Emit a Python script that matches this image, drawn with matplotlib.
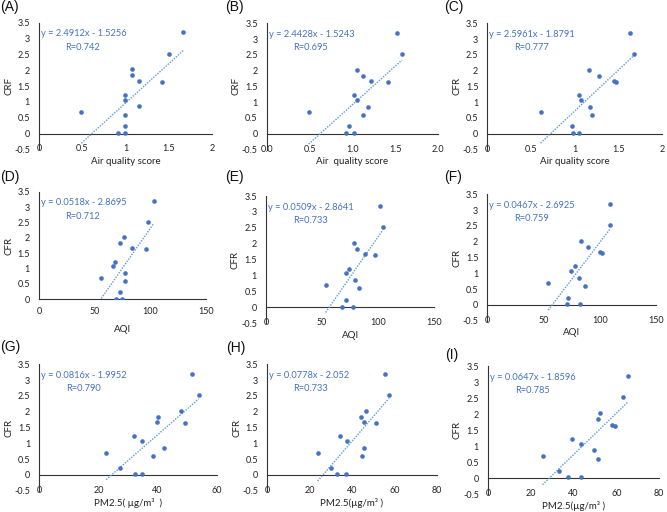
import matplotlib
matplotlib.use('Agg')
import matplotlib.pyplot as plt
import numpy as np

plt.rcParams['font.family'] = ['Lato', 'DejaVu Sans']

# CFR of the 14 regions, same order in every panel
cfr = [3.2, 2.53, 2.03, 1.84, 1.67, 1.64, 1.22, 1.07, 0.86, 0.6, 0.69, 0.23, 0.02, 0.02]

# x values per panel
aqs_a = [1.67, 1.50, 1.075, 1.075, 1.16, 1.42, 0.99, 0.99, 1.16, 0.99, 0.49, 0.99, 0.91, 0.99]
aqs_b = [1.52, 1.58, 1.05, 1.13, 1.22, 1.42, 1.02, 1.05, 1.18, 1.13, 0.49, 0.96, 0.93, 1.02]
aqs_c = [1.63, 1.68, 1.17, 1.28, 1.45, 1.47, 1.05, 1.07, 1.18, 1.20, 0.61, 0.97, 0.98, 1.05]
aqi_d = [103, 97.9, 76, 73, 83.2, 96.4, 68.6, 66.8, 77.5, 77.5, 56, 72.5, 69.5, 74.6]
aqi_e = [101.6, 104, 78.1, 80.8, 88.5, 97.4, 74.3, 71.3, 79.3, 82.6, 53.2, 71.3, 67.7, 77.8]
aqi_f = [109.5, 109.5, 83.3, 89.6, 100.3, 101.8, 78, 74.7, 81.5, 86.6, 54.2, 71.7, 70.8, 82.1]
pm_g = [51.7, 53.9, 47.9, 40.3, 39.9, 49.2, 31.9, 34.9, 42.3, 38.3, 22.6, 27.3, 32.4, 34.9]
pm_h = [55.7, 57.5, 46.8, 44.4, 45.5, 51.3, 34.3, 37.6, 45.7, 44.9, 23.9, 30.2, 33.2, 37.2]
pm_i = [65.6, 63.3, 52.2, 51.4, 57.8, 59.4, 39.5, 43.4, 49.4, 51.4, 25.5, 33.1, 37.2, 43.3]

# linear fits printed on the panels
slopes = [2.4912, 2.4428, 2.5961, 0.0518, 0.0509, 0.0467, 0.0816, 0.0778, 0.0647]
intercepts = [-1.5256, -1.5243, -1.8791, -2.8695, -2.8641, -2.6925, -1.9952, -2.052, -1.8596]
r_values = ['0.742', '0.695', '0.777', '0.712', '0.733', '0.759', '0.790', '0.733', '0.785']

panel_names = ['(A)', '(B)', '(C)', '(D)', '(E)', '(F)', '(G)', '(H)', '(I)']
x_titles = ['Air quality score', 'Air  quality score', 'Air quality score',
            'AQI', 'AQI', 'AQI',
            'PM2.5( µg/m³  )', 'PM2.5(µg/m³ )', 'PM2.5(µg/m³ )']
y_titles = ['CRF', 'CRF', 'CFR', 'CFR', 'CFR', 'CFR', 'CFR', 'CFR', 'CFR']
x_ticks = [[0, 0.5, 1, 1.5, 2], [0, 0.5, 1, 1.5, 2], [0, 0.5, 1, 1.5, 2],
           [0, 50, 100, 150], [0, 50, 100, 150], [0, 50, 100, 150],
           [0, 20, 40, 60], [0, 20, 40, 60, 80], [0, 20, 40, 60, 80]]
x_tick_labels = [['0', '0.5', '1', '1.5', '2'], ['0.0', '0.5', '1.0', '1.5', '2.0'],
                 ['0', '0.5', '1', '1.5', '2'],
                 ['0', '50', '100', '150'], ['0', '50', '100', '150'], ['0', '50', '100', '150'],
                 ['0', '20', '40', '60'], ['0', '20', '40', '60', '80'], ['0', '20', '40', '60', '80']]
y_ticks = [-0.5, 0, 0.5, 1, 1.5, 2, 2.5, 3, 3.5]
y_tick_labels = ['-0.5', '0', '0.5', '1', '1.5', '2', '2.5', '3', '3.5']
y_bottoms = [-0.5, -0.5, -0.5, 0, -0.5, -0.5, -0.5, -0.5, -0.5]

xs = [aqs_a, aqs_b, aqs_c, aqi_d, aqi_e, aqi_f, pm_g, pm_h, pm_i]

# plot boxes in pixels: left, top, right, bottom
boxes = [(39, 23, 212, 149.3), (266.7, 23.3, 438, 149.5), (487.3, 23.3, 662, 149.5),
         (39, 191.7, 206, 299.3), (266, 196, 434.3, 323.3), (487.3, 194.3, 656, 320.8),
         (39.3, 364.3, 216.7, 490.7), (267, 364.3, 436.7, 490.7), (488, 366, 659, 494)]
name_pos = [(0, 7.5), (225.5, 7.5), (444.5, 7.5), (0, 176.7), (225.5, 177.3), (444.5, 177),
            (0, 346.7), (226, 348.3), (445, 355)]

W, H = 667, 512
fig = plt.figure(figsize=(W / 100, H / 100), dpi=100)

blue = '#4472C4'
axis_col = '#333333'
text_col = '#222222'

for i in range(9):
    l, t, r, b = boxes[i]
    ax = fig.add_axes([l / W, 1 - b / H, (r - l) / W, (b - t) / H])
    x = np.array(xs[i])
    ax.scatter(x, cfr, s=11, color=blue, zorder=3, linewidths=0)
    xl = np.array([x.min(), x.max()])
    ax.plot(xl, slopes[i] * xl + intercepts[i], color='#5B9BD5', lw=1.0,
            linestyle=(0, (1, 1)), zorder=2)
    ax.set_xlim(x_ticks[i][0], x_ticks[i][-1])
    ax.set_ylim(y_bottoms[i], 3.5)
    ax.axhline(0, color=axis_col, lw=0.8, zorder=1, clip_on=False)

    for s in ['top', 'right', 'bottom']:
        ax.spines[s].set_visible(False)
    ax.spines['left'].set_color(axis_col)
    ax.spines['left'].set_linewidth(0.8)

    yt = [v for v in y_ticks if v >= y_bottoms[i]]
    ax.set_yticks(yt)
    ax.set_yticklabels(y_tick_labels[len(y_ticks) - len(yt):])
    ax.set_xticks(x_ticks[i])
    ax.set_xticklabels(x_tick_labels[i])
    ax.tick_params(axis='y', length=0, pad=6.5, labelsize=6.5, labelcolor=text_col)
    xpad = 5.5 if y_bottoms[i] == 0 else -3.5
    ax.tick_params(axis='x', length=0, pad=xpad, labelsize=6.5, labelcolor=text_col)

    ax.set_xlabel(x_titles[i], fontsize=7, color=text_col)
    ax.set_ylabel(y_titles[i], fontsize=7, color=text_col)
    below = 30 if y_bottoms[i] == 0 else 12
    ax.xaxis.set_label_coords(0.5, -below / (b - t))
    ax.xaxis.label.set_va('center')
    ax.yaxis.set_label_coords(-30.5 / (r - l), 0.5)
    ax.yaxis.label.set_va('center')

    eq = 'y = {}x - {}'.format(slopes[i], abs(intercepts[i]))
    ax.annotate(eq, xy=(0, 1), xycoords='axes fraction', xytext=(2, -11),
                textcoords='offset pixels', ha='left', va='center',
                fontsize=6.7, color=blue)
    ax.annotate('R=' + r_values[i], xy=(0, 1), xycoords='axes fraction', xytext=(44, -24.5),
                textcoords='offset pixels', ha='center', va='center',
                fontsize=6.7, color=blue)

    px, py = name_pos[i]
    fig.text(px / W, 1 - py / H, panel_names[i], fontsize=10, ha='left', va='center',
             family=['Liberation Sans', 'DejaVu Sans'], color='#111111')

fig.savefig('out.png', dpi=100)
